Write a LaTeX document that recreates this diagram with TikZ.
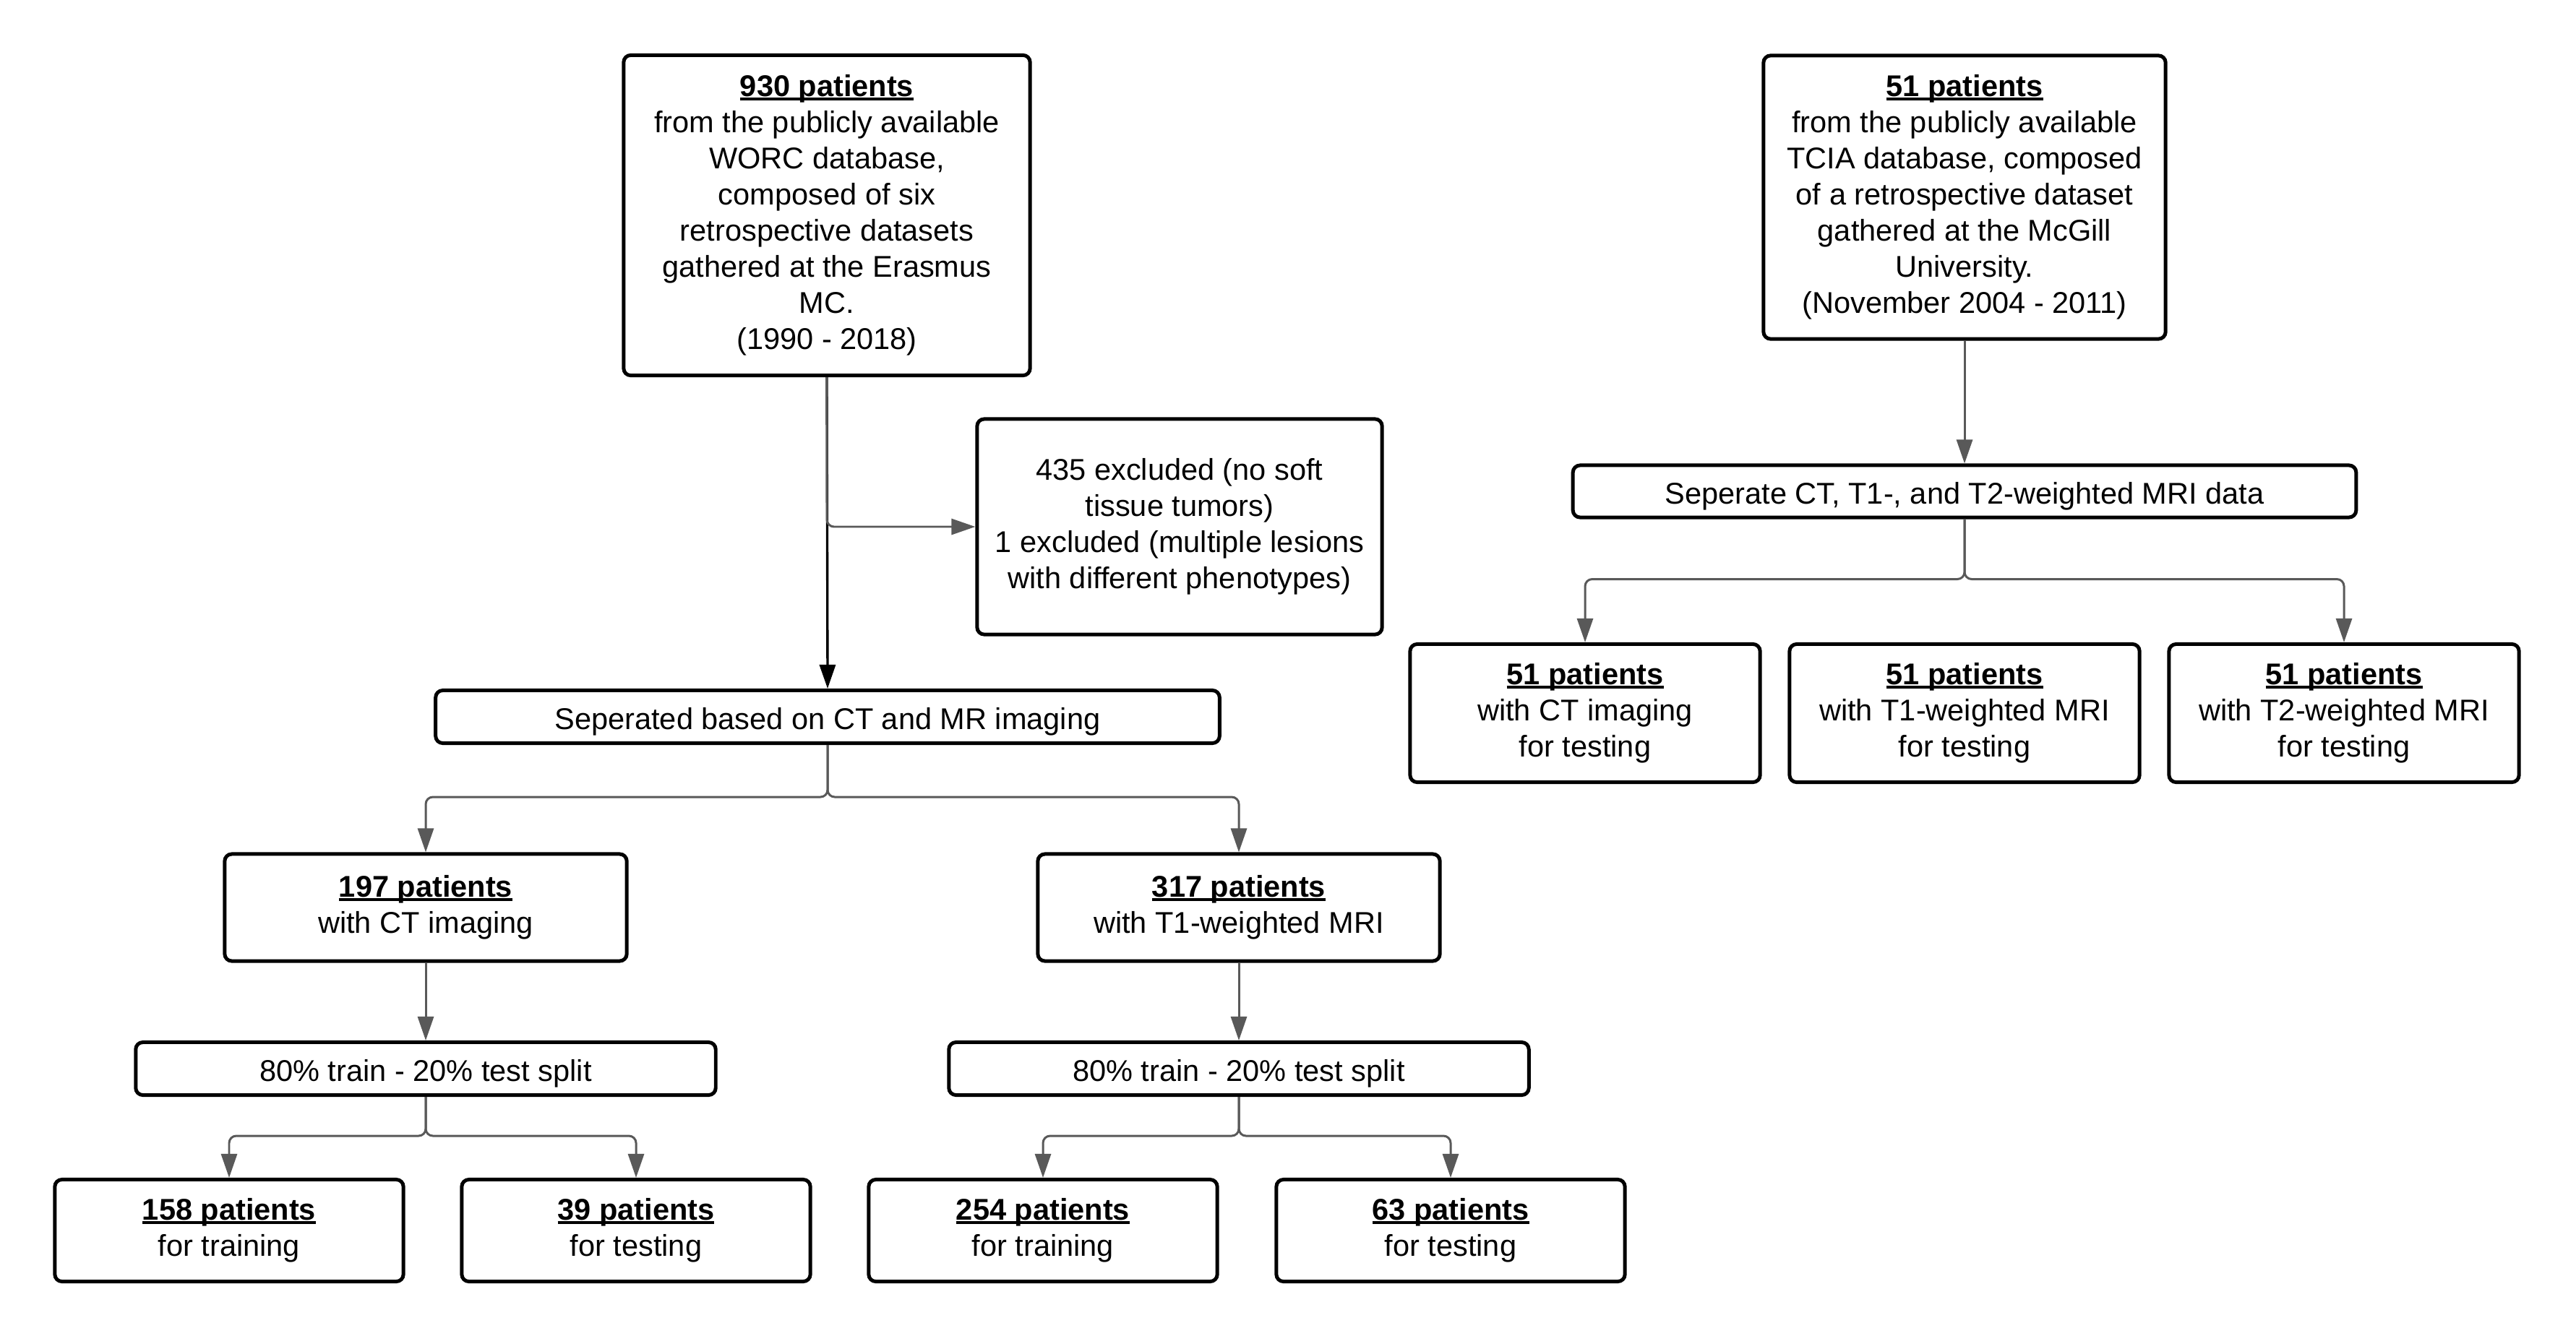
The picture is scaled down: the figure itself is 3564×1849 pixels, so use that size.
\documentclass[tikz,border=0pt]{standalone}
\usepackage{fontspec}
\setmainfont{Liberation Sans}
\usetikzlibrary{arrows.meta}
\definecolor{connc}{HTML}{595959}
\newcommand\uhead[1]{\setbox0\hbox{\bfseries #1}\rlap{\rule[-1.6pt]{\wd0}{1.1pt}}\box0}
\begin{document}
\begin{tikzpicture}[x=0.01cm,y=-0.01cm,
  box/.style={draw=black, line width=1.42pt, rounded corners=2.8pt, fill=white,
    align=center, inner sep=0pt, font=\fontsize{11.81pt}{14.23pt}\selectfont},
  single/.style={text height=12.4pt, text depth=2.36pt},
  conn/.style={draw=connc, line width=0.85pt, rounded corners=2.8pt,
    -{Triangle[length=0.33cm,width=0.22cm,fill=connc]}},
  blk/.style={draw=black, line width=0.95pt,
    -{Triangle[length=0.33cm,width=0.22cm,fill=black]}}]
\useasboundingbox (0,0) rectangle (3564,1849);

% left column
\node[box, minimum width=5.62cm, minimum height=4.43cm] (top930) at (1144,298)
  {\uhead{930 patients}\\from the publicly available\\WORC database,\\composed of six\\retrospective datasets\\gathered at the Erasmus\\MC.\\(1990 - 2018)};
\node[box, minimum width=5.60cm, minimum height=2.98cm] (excl) at (1632,729)
  {435 excluded (no soft\\tissue tumors)\\1 excluded (multiple lesions\\with different phenotypes)};
\node[box, single, minimum width=10.84cm, minimum height=0.73cm] (sep) at (1145,992)
  {Seperated based on CT and MR imaging};
\node[box, minimum width=5.56cm, minimum height=1.48cm] (ct) at (589,1256)
  {\uhead{197 patients}\\with CT imaging};
\node[box, minimum width=5.56cm, minimum height=1.48cm] (mr) at (1714,1256)
  {\uhead{317 patients}\\with T1-weighted MRI};
\node[box, single, minimum width=8.02cm, minimum height=0.73cm] (splitL) at (589,1479)
  {80\% train - 20\% test split};
\node[box, single, minimum width=8.02cm, minimum height=0.73cm] (splitR) at (1714,1479)
  {80\% train - 20\% test split};
\node[box, minimum width=4.82cm, minimum height=1.41cm] (l1) at (317,1703)
  {\uhead{158 patients}\\for training};
\node[box, minimum width=4.82cm, minimum height=1.41cm] (l2) at (880,1703)
  {\uhead{39 patients}\\for testing};
\node[box, minimum width=4.82cm, minimum height=1.41cm] (l3) at (1443,1703)
  {\uhead{254 patients}\\for training};
\node[box, minimum width=4.82cm, minimum height=1.41cm] (l4) at (2007,1703)
  {\uhead{63 patients}\\for testing};

% right column
\node[box, minimum width=5.56cm, minimum height=3.92cm] (top51) at (2718,273)
  {\uhead{51 patients}\\from the publicly available\\TCIA database, composed\\of a retrospective dataset\\gathered at the McGill\\University.\\(November 2004 - 2011)};
\node[box, single, minimum width=10.83cm, minimum height=0.72cm] (sep2) at (2718,680)
  {Seperate CT, T1-, and T2-weighted MRI data};
\node[box, minimum width=4.84cm, minimum height=1.91cm] (r1) at (2193,987)
  {\uhead{51 patients}\\with CT imaging\\for testing};
\node[box, minimum width=4.84cm, minimum height=1.91cm] (r2) at (2718,987)
  {\uhead{51 patients}\\with T1-weighted MRI\\for testing};
\node[box, minimum width=4.84cm, minimum height=1.91cm] (r3) at (3243,987)
  {\uhead{51 patients}\\with T2-weighted MRI\\for testing};

% connectors
\draw[blk] (top930.south) -- (sep.north);
\draw[conn] (top930.south) |- (excl.west);
\draw[conn] (sep.south) -- ++(0,72) -| (ct.north);
\draw[conn] (sep.south) -- ++(0,72) -| (mr.north);
\draw[conn] (ct.south) -- (splitL.north);
\draw[conn] (mr.south) -- (splitR.north);
\draw[conn] (splitL.south) -- ++(0,54) -| (l1.north);
\draw[conn] (splitL.south) -- ++(0,54) -| (l2.north);
\draw[conn] (splitR.south) -- ++(0,54) -| (l3.north);
\draw[conn] (splitR.south) -- ++(0,54) -| (l4.north);
\draw[conn] (top51.south) -- (sep2.north);
\draw[conn] (sep2.south) -- ++(0,83) -| (r1.north);
\draw[conn] (sep2.south) -- ++(0,83) -| (r3.north);
\end{tikzpicture}
\end{document}
